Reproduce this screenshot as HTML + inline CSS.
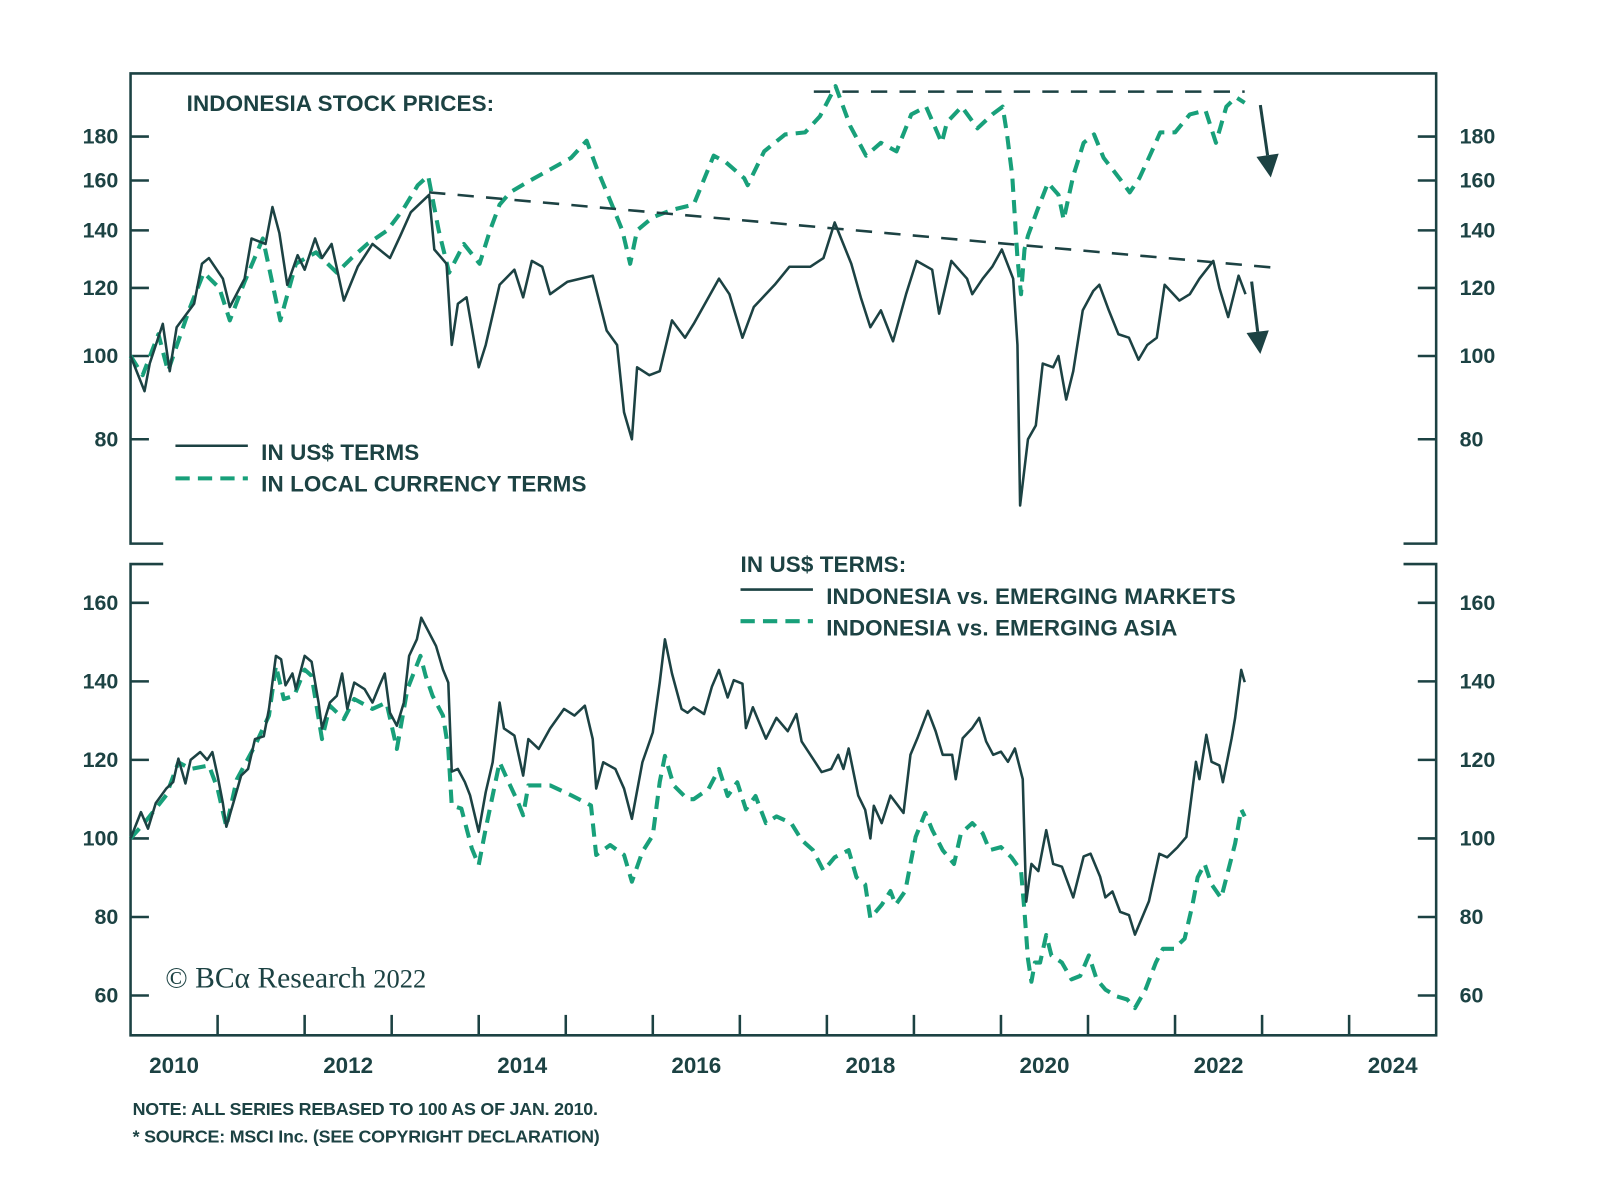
<!DOCTYPE html>
<html><head><meta charset="utf-8">
<style>
html,body{margin:0;padding:0;background:#fff;}
svg{display:block;}
text{font-family:"Liberation Sans",sans-serif;fill:#1c4243;}
.b{font-weight:bold;}
</style></head>
<body>
<svg id="chart" width="1600" height="1198" viewBox="0 0 1600 1198">
<g transform="scale(1.02)">
<g id="frame"></g>
<g id="series"></g>
<g id="labels">
<text x="183" y="109" class="b" font-size="22" letter-spacing="0.1">INDONESIA STOCK PRICES:</text>
<line x1="172" y1="437" x2="243" y2="437" stroke="#1c4243" stroke-width="2.5"/>
<text x="256" y="451" class="b" font-size="22" letter-spacing="0.1">IN US$ TERMS</text>
<line x1="172" y1="469" x2="243" y2="469" stroke="#18a07a" stroke-width="4" stroke-dasharray="14 8"/>
<text x="256" y="482" class="b" font-size="22" letter-spacing="0.1">IN LOCAL CURRENCY TERMS</text>
<text x="726" y="561" class="b" font-size="22" letter-spacing="0.1">IN US$ TERMS:</text>
<line x1="726" y1="578" x2="797" y2="578" stroke="#1c4243" stroke-width="2.5"/>
<text x="810" y="592" class="b" font-size="22" letter-spacing="0.1">INDONESIA vs. EMERGING MARKETS</text>
<line x1="726" y1="609" x2="797" y2="609" stroke="#18a07a" stroke-width="4" stroke-dasharray="14 8"/>
<text x="810" y="623" class="b" font-size="22" letter-spacing="0.1">INDONESIA vs. EMERGING ASIA</text>
<text x="162" y="968" font-size="29" style="font-family:'Liberation Serif',serif">© BCα Research <tspan font-size="26">2022</tspan></text>
<text x="130" y="1093" class="b" font-size="17.5" letter-spacing="-0.2">NOTE: ALL SERIES REBASED TO 100 AS OF JAN. 2010.</text>
<text x="130" y="1120" class="b" font-size="17.5" letter-spacing="-0.2">* SOURCE: MSCI Inc. (SEE COPYRIGHT DECLARATION)</text>
</g>
</g>
</svg>
<script>
const xYears = [2010,2012,2014,2016,2018,2020,2022,2024];
const topTicks = [80,100,120,140,160,180];
const botTicks = [60,80,100,120,140,160];

const usdDates = [2010.00,2010.16,2010.22,2010.37,2010.45,2010.53,2010.73,2010.82,2010.90,2011.06,2011.14,2011.31,2011.39,2011.55,2011.63,2011.71,2011.80,2011.92,2012.00,2012.12,2012.20,2012.31,2012.45,2012.61,2012.78,2012.98,2013.10,2013.22,2013.43,2013.49,2013.63,2013.69,2013.76,2013.86,2014.00,2014.08,2014.24,2014.41,2014.51,2014.61,2014.73,2014.82,2015.02,2015.31,2015.47,2015.59,2015.67,2015.76,2015.82,2015.96,2016.08,2016.22,2016.37,2016.47,2016.76,2016.88,2017.03,2017.16,2017.40,2017.57,2017.81,2017.96,2018.09,2018.28,2018.39,2018.50,2018.62,2018.76,2018.91,2019.03,2019.21,2019.29,2019.43,2019.61,2019.67,2019.79,2019.90,2020.01,2020.14,2020.19,2020.22,2020.31,2020.40,2020.48,2020.60,2020.66,2020.75,2020.83,2020.94,2021.06,2021.13,2021.24,2021.35,2021.47,2021.58,2021.68,2021.79,2021.88,2022.05,2022.17,2022.28,2022.44,2022.51,2022.61,2022.73,2022.81];
const usdValues = [100,91,98,109,96,108,115,128,130,123,114,123,137,135,149,139,121,131,126,137,130,135,116,127,135,130,138,147,154,133,128,103,115,117,97,103,121,126,117,129,127,118,122,124,107,103,86,80,97,95,96,110,105,109,123,118,105,114,121,127,127,130,143,128,117,108,113,104,118,129,126,112,129,123,118,123,127,133,123,103,67,80,83,98,97,100,89,96,113,119,121,113,106,105,99,103,105,121,116,118,123,129,120,111,124,118];

const localDates = [2010.00,2010.14,2010.32,2010.43,2010.67,2010.84,2011.02,2011.14,2011.31,2011.52,2011.72,2011.90,2012.13,2012.37,2012.54,2012.72,2012.95,2013.13,2013.30,2013.42,2013.54,2013.66,2013.83,2014.01,2014.13,2014.24,2014.36,2014.59,2014.83,2015.06,2015.24,2015.36,2015.53,2015.65,2015.74,2015.82,2016.00,2016.23,2016.47,2016.70,2016.84,2017.05,2017.09,2017.28,2017.52,2017.75,2017.92,2018.10,2018.27,2018.45,2018.62,2018.80,2018.97,2019.14,2019.32,2019.38,2019.55,2019.73,2019.90,2020.02,2020.07,2020.13,2020.19,2020.23,2020.27,2020.31,2020.42,2020.54,2020.66,2020.72,2020.83,2020.95,2021.07,2021.18,2021.36,2021.48,2021.59,2021.71,2021.83,2022.00,2022.17,2022.35,2022.47,2022.59,2022.70,2022.80];
const localValues = [100,95,106,96,113,125,120,110,122,137,110,128,132,125,130,135,140,148,158,162,140,125,135,128,140,150,155,160,165,170,178,165,150,140,128,140,145,148,150,171,168,161,158,173,181,182,190,206,185,171,177,173,191,195,177,187,195,184,191,195,181,162,130,118,133,138,148,159,154,144,162,177,181,170,161,155,161,171,182,182,191,193,177,195,200,197];

const emDates = [2010.00,2010.12,2010.20,2010.29,2010.41,2010.49,2010.55,2010.63,2010.69,2010.80,2010.88,2010.94,2011.00,2011.06,2011.10,2011.18,2011.27,2011.35,2011.43,2011.53,2011.59,2011.67,2011.73,2011.78,2011.86,2011.90,2012.00,2012.08,2012.16,2012.20,2012.29,2012.37,2012.43,2012.49,2012.57,2012.69,2012.78,2012.86,2012.92,2012.98,2013.06,2013.14,2013.20,2013.29,2013.34,2013.43,2013.51,2013.59,2013.65,2013.69,2013.76,2013.84,2013.90,2014.00,2014.08,2014.16,2014.24,2014.29,2014.41,2014.51,2014.57,2014.69,2014.82,2014.98,2015.10,2015.22,2015.31,2015.35,2015.43,2015.57,2015.67,2015.76,2015.88,2016.00,2016.08,2016.14,2016.22,2016.33,2016.40,2016.47,2016.59,2016.68,2016.76,2016.86,2016.93,2017.03,2017.07,2017.15,2017.30,2017.42,2017.55,2017.65,2017.71,2017.84,2017.94,2018.05,2018.13,2018.19,2018.25,2018.36,2018.44,2018.50,2018.54,2018.63,2018.73,2018.88,2018.96,2019.04,2019.16,2019.25,2019.33,2019.44,2019.48,2019.56,2019.67,2019.75,2019.83,2019.91,2020.00,2020.08,2020.16,2020.25,2020.29,2020.35,2020.43,2020.52,2020.60,2020.70,2020.83,2020.95,2021.03,2021.14,2021.20,2021.28,2021.37,2021.47,2021.54,2021.70,2021.82,2021.91,2022.03,2022.13,2022.24,2022.28,2022.36,2022.42,2022.51,2022.55,2022.65,2022.69,2022.76,2022.80];
const emValues = [100,106.7,102.5,109,112.7,114.4,120.3,114,120,122,120,122,116,109,103,109,116,117.7,125.3,126,133,146.5,145.6,139,142,138,146.5,145,134.6,128,134.6,136.3,142,133,139.7,138,134.6,139,142,132,128.7,134.6,146.5,150.7,156.2,152.4,149,143,139.7,117,117.7,114.4,111,101.7,111.8,119.4,134.6,128,126.2,116,125.3,122.8,128,133,131.3,133.8,125.3,112.7,119.4,117.7,112.7,105,119.4,127,139.7,150.7,142,133,132,133.4,131.7,138.7,142.9,135.9,140.3,139.4,128.1,133.4,125.4,130.7,127.3,131.7,124.7,120.3,116.9,117.7,121.3,117.7,122.9,110.9,107.3,100,108.3,103.9,110.9,106.5,121.3,125.5,132.5,127.3,121.3,121.3,115.1,125.5,128.1,130.7,124.7,121.3,122.1,119.5,122.9,115.1,83.9,93.5,91.7,102.1,93.5,92.8,85,95.4,96.1,90.2,85,86.5,81.3,80.5,75.5,84,96.1,95.2,97.8,100.4,119.5,115.1,126.4,119.5,118.6,114.3,125.5,130.7,142.9,139.8];

const asiaDates = [2010.00,2010.16,2010.41,2010.55,2010.69,2010.90,2011.00,2011.10,2011.22,2011.43,2011.59,2011.67,2011.76,2011.88,2012.00,2012.08,2012.20,2012.29,2012.45,2012.57,2012.78,2012.94,2013.06,2013.18,2013.33,2013.39,2013.47,2013.59,2013.65,2013.69,2013.80,2013.92,2014.00,2014.08,2014.24,2014.33,2014.45,2014.51,2014.57,2014.82,2015.06,2015.29,2015.35,2015.51,2015.67,2015.76,2015.88,2016.00,2016.08,2016.14,2016.24,2016.40,2016.47,2016.64,2016.76,2016.86,2016.97,2017.07,2017.18,2017.30,2017.42,2017.59,2017.71,2017.84,2017.96,2018.09,2018.25,2018.34,2018.44,2018.50,2018.63,2018.73,2018.79,2018.90,2018.96,2019.02,2019.13,2019.21,2019.33,2019.46,2019.54,2019.67,2019.79,2019.87,2020.00,2020.12,2020.23,2020.27,2020.31,2020.35,2020.39,2020.45,2020.52,2020.58,2020.70,2020.81,2020.91,2021.01,2021.10,2021.20,2021.33,2021.45,2021.54,2021.66,2021.78,2021.86,2021.99,2022.11,2022.20,2022.26,2022.34,2022.42,2022.53,2022.61,2022.69,2022.76,2022.80];
const asiaValues = [100,104,111,119.4,117.7,118.6,112.7,103,115,123.6,131.3,144,135.5,136.3,143,141.4,125.3,133.8,130.4,135.5,133,134.6,122.8,138,146.5,141.4,136.3,131.3,122.8,108.4,107.6,97.5,93.2,102.5,119.4,115,109.3,105.9,113.5,113.5,111,108.4,95.8,98.3,95.8,89,96.6,100.8,114.4,121,113.5,110,110,112.6,117.7,110.8,114.3,107.4,110.8,103.9,105.6,103.9,99.6,97,91.8,95.2,97,90.1,88.3,79.7,83.1,86.6,83.1,86.6,93.5,100.4,106.5,102.2,97,93.5,101.3,103.9,101.3,97,97.8,95.2,91.8,81.4,69.3,63.5,68.4,68.4,75.4,70.2,68.4,64.1,65,70.2,64.1,61.5,59.8,59,56.8,61.5,68.4,71.9,71.9,74.5,83.1,90.1,93.5,88.3,84.8,91.8,98.7,107.4,105.6];

const X0=128, X1=1408, YR=(1408-128)/15;
function xs(t){return X0+(t-2010)*YR;}
function yTop(v){return 349-366*Math.log(v/100);}
function yBot(v){return 591+(160-v)*3.85;}
const NS='http://www.w3.org/2000/svg';
const C='#1c4243', G='#18a07a';
function mk(tag,attrs,parent){const e=document.createElementNS(NS,tag);for(const k in attrs)e.setAttribute(k,attrs[k]);parent.appendChild(e);return e;}
const frame=document.getElementById('frame');
const series=document.getElementById('series');
const labels=document.getElementById('labels');

const fp='M160,533 L128,533 L128,72 L1408,72 L1408,533 L1376,533 M160,553 L128,553 L128,1015 L1408,1015 L1408,553 L1376,553';
let f=mk('path',{d:fp,fill:'none',stroke:C,'stroke-width':2.5},frame);


function tick(y,v,name){
  let l=mk('line',{x1:128,x2:146,y1:y,y2:y,stroke:C,'stroke-width':2.5},frame);
  
  
  let r=mk('line',{x1:1390,x2:1408,y1:y,y2:y,stroke:C,'stroke-width':2.5},frame);
  
  
  let t1=mk('text',{x:116,y:y+7,'text-anchor':'end','font-size':21,'class':'b'},labels);
  t1.textContent=v;
  
  
  let t2=mk('text',{x:1431,y:y+7,'font-size':21,'class':'b'},labels);
  t2.textContent=v;
  
  
}
topTicks.forEach(v=>tick(yTop(v),v,'top-y-'+v));
botTicks.forEach(v=>tick(yBot(v),v,'bottom-y-'+v));
for(let yr=2011;yr<=2024;yr++){
  let l=mk('line',{x1:xs(yr),x2:xs(yr),y1:995,y2:1015,stroke:C,'stroke-width':2.5},frame);
  
  
}
xYears.forEach(yr=>{
  let t=mk('text',{x:xs(yr+0.5),y:1052,'text-anchor':'middle','font-size':22,'class':'b'},labels);
  t.textContent=yr;
  
  
});

function line(dates,vals,ys,color,w,dash,name){
  const d=dates.map((t,i)=>(i?'L':'M')+xs(t).toFixed(1)+','+ys(vals[i]).toFixed(1)).join(' ');
  const attrs={d:d,fill:'none',stroke:color,'stroke-width':w,'stroke-linejoin':'round'};
  if(dash)attrs['stroke-dasharray']=dash;
  let p=mk('path',attrs,series);
  
  
}
line(localDates,localValues,yTop,G,4,'13 8','local-currency-line');
line(usdDates,usdValues,yTop,C,2.5,null,'usd-terms-line');
line(asiaDates,asiaValues,yBot,G,4,'13 8','vs-emerging-asia-line');
line(emDates,emValues,yBot,C,2.5,null,'vs-emerging-markets-line');

let tl=mk('line',{x1:xs(2013.43),y1:yTop(155),x2:xs(2023.1),y2:yTop(126.8),stroke:C,'stroke-width':2.5,'stroke-dasharray':'16 12'},series);


let hl=mk('line',{x1:xs(2017.85),y1:yTop(203),x2:xs(2022.8),y2:yTop(203),stroke:C,'stroke-width':2.5,'stroke-dasharray':'16 12'},series);


function arrow(x1,y1,x2,y2,name){
  let g=mk('g',{},series);
  
  
  const a=Math.atan2(y2-y1,x2-x1),L=22,W=11;
  const bx=x2-L*Math.cos(a), by=y2-L*Math.sin(a);
  mk('line',{x1:x1,y1:y1,x2:bx,y2:by,stroke:C,'stroke-width':3},g);
  const px=-Math.sin(a)*W, py=Math.cos(a)*W;
  mk('polygon',{points:`${x2},${y2} ${bx+px},${by+py} ${bx-px},${by-py}`,fill:C},g);
}
arrow(xs(2022.98),103,xs(2023.1),174,'arrow-local-down');
arrow(xs(2022.88),276,xs(2022.98),347,'arrow-usd-down');
</script>
</body></html>
